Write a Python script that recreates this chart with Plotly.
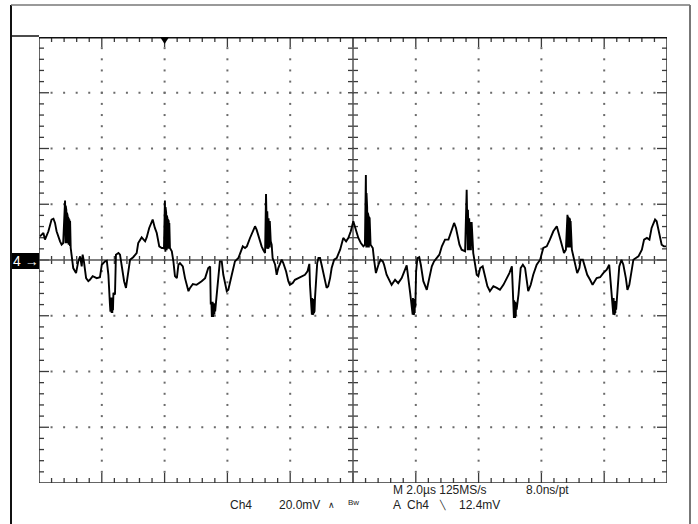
import plotly.graph_objects as go

# ---------------- data (Ch4, 2.0 us/div, 20 mV/div), read segment by segment ----------------
time_us = [
    0.03, 0.14, 0.19, 0.30, 0.40, 0.46, 0.51, 0.56, 0.67, 0.72, 0.77,
    0.83, 0.845, 0.85, 0.865, 0.87, 0.885, 0.89, 0.905, 0.91, 0.925, 0.93, 0.945, 0.95, 0.965, 0.97, 0.985, 0.99, 1.01,
    1.04, 1.09, 1.18, 1.25, 1.31, 1.36, 1.39, 1.43, 1.50, 1.57, 1.62, 1.71, 1.84, 1.94, 2.00, 2.10, 2.16, 2.21,
    2.26, 2.275, 2.28, 2.295, 2.30, 2.315, 2.32, 2.335, 2.34, 2.355, 2.37, 2.42,
    2.45, 2.53, 2.58, 2.63, 2.71, 2.77, 2.84, 2.90, 3.00, 3.11, 3.16, 3.27, 3.38, 3.43, 3.51, 3.62, 3.69, 3.75, 3.83, 3.91, 3.98,
    4.01, 4.025, 4.03, 4.045, 4.05, 4.065, 4.07, 4.085, 4.09, 4.105, 4.11, 4.125, 4.13, 4.145, 4.15, 4.17,
    4.23, 4.28, 4.33, 4.39, 4.44, 4.49, 4.58, 4.65, 4.76, 4.81, 4.90, 5.02, 5.11, 5.18, 5.29, 5.39, 5.45,
    5.47, 5.49, 5.505, 5.51, 5.525, 5.53, 5.545, 5.55, 5.565, 5.57, 5.585, 5.59, 5.61, 5.66,
    5.74, 5.76, 5.82, 5.87, 5.98, 6.03, 6.14, 6.24, 6.35, 6.42, 6.49, 6.56, 6.62, 6.72, 6.81, 6.88, 6.93, 7.02, 7.09, 7.14, 7.20,
    7.23, 7.245, 7.25, 7.265, 7.27, 7.285, 7.29, 7.305, 7.31, 7.325, 7.33, 7.345, 7.35, 7.38,
    7.41, 7.44, 7.52, 7.57, 7.62, 7.68, 7.73, 7.78, 7.87, 7.94, 7.99, 8.08, 8.15, 8.26, 8.37, 8.47, 8.55, 8.61, 8.63,
    8.69, 8.70, 8.715, 8.72, 8.735, 8.74, 8.755, 8.76, 8.775, 8.79,
    8.86, 8.90, 8.95, 9.00, 9.08, 9.16, 9.21, 9.27, 9.32, 9.40, 9.48, 9.59, 9.69, 9.78, 9.85, 9.93, 10.01, 10.06, 10.12, 10.17, 10.25, 10.33, 10.38,
    10.41, 10.425, 10.43, 10.445, 10.45, 10.465, 10.47, 10.485, 10.49, 10.505, 10.51, 10.525, 10.53, 10.56,
    10.63, 10.67, 10.73, 10.81, 10.88, 10.95, 10.99, 11.07, 11.16, 11.23, 11.34, 11.44, 11.55, 11.66, 11.71, 11.82,
    11.90, 11.91, 11.925, 11.93, 11.945, 11.95, 11.965, 11.97, 11.985, 12.01,
    12.05, 12.11, 12.16, 12.24, 12.35, 12.43, 12.51, 12.58, 12.67, 12.75, 12.83, 12.93, 13.04, 13.14, 13.22, 13.28, 13.32, 13.39, 13.46, 13.57,
    13.62, 13.635, 13.64, 13.655, 13.66, 13.675, 13.68, 13.695, 13.70, 13.715, 13.72, 13.735, 13.74, 13.755, 13.76, 13.78,
    13.83, 13.89, 13.94, 13.99, 14.05, 14.13, 14.20, 14.28, 14.36, 14.47, 14.58, 14.68, 14.79, 14.90, 14.98, 15.06,
    15.09, 15.11, 15.125, 15.13, 15.145, 15.15, 15.165, 15.17, 15.185, 15.19, 15.21, 15.27,
    15.34, 15.41, 15.48, 15.53, 15.58, 15.66, 15.74, 15.85, 15.96, 16.06, 16.17, 16.27, 16.38, 16.49, 16.57, 16.65, 16.72, 16.78,
    16.83, 16.845, 16.85, 16.865, 16.87, 16.885, 16.89, 16.905, 16.91, 16.925, 16.93, 16.97,
    17.02, 17.07, 17.14, 17.21, 17.25, 17.32, 17.39, 17.46, 17.55, 17.63, 17.76, 17.87, 17.97, 18.08, 18.16, 18.24,
    18.29, 18.30, 18.315, 18.32, 18.335, 18.34, 18.355, 18.36, 18.38, 18.42,
    18.48, 18.55, 18.61, 18.69, 18.74, 18.80, 18.88, 18.93, 19.01, 19.09, 19.20, 19.27, 19.36, 19.44, 19.51, 19.56, 19.62, 19.67, 19.72, 19.78, 19.83, 19.90, 19.97,
]
ch4_mV = [
    8.5, 9.7, 7.3, 10.3, 14.5, 14.8, 13.3, 10.3, 6.7, 5.5, 6.1,
    21.3, 6.0, 19.5, 6.0, 18.0, 6.0, 17.0, 6.0, 16.0, 6.0, 15.5, 5.5, 15.0, 5.5, 14.5, 5.0, 14.0, 4.3,
    0.7, -2.9, -4.7, -0.5, 1.3, -2.3, 1.9, -0.5, -6.5, -7.6, -7.1, -5.8, -6.5, -6.2, -1.7, -0.5, -0.3, -5.3,
    -16.0, -18.5, -13.5, -19.0, -13.5, -19.0, -14.0, -19.0, -13.5, -18.0, -11.8, -12.4,
    1.9, 2.5, 1.9, -1.7, -7.6, -10.0, -5.3, 0.1, 1.0, 2.5, 6.1, 8.1, 6.7, 8.1, 11.5, 14.5, 11.5, 9.7, 4.9, 4.3, 4.3,
    21.3, 3.0, 19.0, 3.0, 17.0, 3.5, 16.0, 3.5, 15.0, 4.0, 14.5, 4.0, 14.0, 4.0, 13.3, 4.3,
    3.1, -0.5, -5.8, -6.5, -1.7, -1.1, -2.3, -6.5, -11.2, -10.0, -8.6, -8.9, -8.3, -7.6, -6.5, -2.9, -2.3,
    -16.0, -15.0, -20.4, -15.0, -20.4, -15.0, -20.4, -15.5, -20.0, -15.5, -19.5, -16.0, -18.4, -12.4,
    -3.5, -0.5, -0.5, -5.3, -11.2, -10.7, -5.3, -0.5, 0.7, 3.1, 4.9, 4.3, 4.9, 7.9, 10.3, 12.1, 10.9, 7.3, 4.9, 3.7, 2.5,
    23.7, 4.0, 20.0, 4.0, 17.5, 4.0, 16.0, 4.0, 15.0, 4.5, 14.5, 4.5, 14.0, 6.7,
    5.5, 0.7, -1.7, -5.3, -2.9, -1.1, 0.1, -1.1, -4.1, -7.6, -8.9, -8.3, -7.1, -6.5, -5.8, -5.3, -4.1, -1.4, -8.9,
    -19.6, -13.6, -19.6, -13.6, -19.3, -14.0, -19.0, -14.0, -18.3, -13.6,
    -1.1, 0.7, 0.7, -1.7, -6.5, -10.0, -9.4, -6.5, -2.9, 0.1, 0.7, 3.7, 7.9, 6.7, 7.9, 10.3, 13.9, 12.1, 10.3, 7.9, 6.1, 4.9, 5.5,
    30.5, 4.5, 24.0, 4.5, 19.0, 4.5, 17.0, 4.5, 16.0, 4.5, 15.5, 5.0, 15.0, 5.5,
    4.3, 0.1, -4.7, -1.7, 0.1, -0.5, -1.7, -5.3, -7.6, -8.9, -7.1, -8.3, -6.5, -2.9, -1.9, -11.8,
    -19.6, -13.6, -19.6, -13.6, -19.4, -14.0, -19.0, -14.7, -17.0, -4.1,
    0.7, 1.0, -1.7, -7.6, -10.7, -6.5, -2.3, -0.5, 0.7, 1.9, 4.9, 7.3, 7.3, 10.9, 13.3, 11.5, 9.1, 5.5, 3.7, 3.1,
    25.2, 3.5, 21.0, 3.5, 18.0, 3.5, 16.0, 3.5, 15.0, 3.5, 14.0, 3.5, 13.5, 3.5, 13.3, 13.3,
    2.5, -1.7, -5.3, -5.8, -2.9, -2.3, -5.3, -9.4, -11.2, -9.4, -10.0, -10.7, -8.9, -6.5, -4.7, -2.3,
    -14.2, -15.0, -20.8, -14.5, -20.8, -14.5, -20.8, -15.0, -20.0, -15.4, -17.8, -12.4,
    -2.9, -1.7, -2.9, -7.6, -11.2, -8.9, -5.3, -1.7, 0.1, 4.3, 4.9, 7.3, 10.3, 12.1, 8.5, 4.9, 2.5, 3.7,
    16.2, 4.5, 15.5, 4.5, 15.0, 4.5, 15.0, 4.5, 14.5, 4.5, 14.0, 3.7,
    1.3, -1.7, -4.7, -2.9, 0.1, 0.1, -2.3, -5.3, -7.1, -8.9, -6.5, -6.2, -4.7, -3.5, -1.7, -11.8,
    -19.6, -13.6, -19.6, -13.6, -19.4, -14.7, -19.0, -15.0, -17.8, -11.2,
    -2.3, 0.1, -1.7, -6.5, -10.7, -8.9, -4.1, 0.1, 0.7, 1.3, 3.7, 7.3, 7.9, 7.3, 11.5, 12.7, 14.5, 13.9, 11.5, 8.5, 5.5, 4.9, 4.9,
]

# scope settings / readout text
US_PER_DIV = 2.0
MV_PER_DIV = 20.0
X_DIVS = 10
Y_DIVS = 8
MINOR_PER_DIV = 5
TRIGGER_POS_US = 4.0
readout_row1 = ["M 2.0µs 125MS/s", "8.0ns/pt"]
readout_row2 = ["Ch4", "20.0mV", "\u2227", "Bw", "A  Ch4", "\u2572", "12.4mV"]
channel_label = "4 \u2192"

# ---------------- layout geometry (pixels) ----------------
W, H = 698, 524
GL, GR, GT, GB = 39, 667, 37, 483
XMAX = US_PER_DIV * X_DIVS
YMAX = MV_PER_DIV * Y_DIVS / 2
dx = XMAX / (GR - GL)          # data units per pixel (x)
dy = 2 * YMAX / (GB - GT)      # data units per pixel (y)


def pxx(px):
    return (px - GL) / (GR - GL)


def pxy(py):
    return (GB - py) / (GB - GT)


fig = go.Figure()

# dotted graticule
dot_x, dot_y = [], []
xminor = US_PER_DIV / MINOR_PER_DIV
yminor = MV_PER_DIV / MINOR_PER_DIV
for j in range(1, Y_DIVS):
    yv = -YMAX + j * MV_PER_DIV
    if abs(yv) < 1e-9:
        continue
    for i in range(1, X_DIVS * MINOR_PER_DIV):
        dot_x.append(i * xminor)
        dot_y.append(yv)
for i in range(1, X_DIVS):
    xv = i * US_PER_DIV
    if abs(xv - XMAX / 2) < 1e-9:
        continue
    for j in range(1, Y_DIVS * MINOR_PER_DIV):
        dot_x.append(xv)
        dot_y.append(-YMAX + j * yminor)
fig.add_trace(go.Scatter(x=dot_x, y=dot_y, mode="markers",
                         marker=dict(symbol="square", size=2, color="#6a6a6a", line=dict(width=0)),
                         hoverinfo="skip", showlegend=False))

# tick marks on frame and centre axes
tx, ty = [], []
for i in range(1, X_DIVS * MINOR_PER_DIV):
    xv = i * xminor
    ln = 10 if i % MINOR_PER_DIV == 0 else 5
    tx += [xv, xv, None, xv, xv, None, xv, xv, None]
    ty += [-YMAX, -YMAX + ln * dy, None, YMAX, YMAX - ln * dy, None, -4 * dy, 4 * dy, None]
for j in range(1, Y_DIVS * MINOR_PER_DIV):
    yv = -YMAX + j * yminor
    ln = 10 if j % MINOR_PER_DIV == 0 else 5
    tx += [0, ln * dx, None, XMAX, XMAX - ln * dx, None, XMAX / 2 - 5 * dx, XMAX / 2 + 5 * dx, None]
    ty += [yv, yv, None, yv, yv, None, yv, yv, None]
fig.add_trace(go.Scatter(x=tx, y=ty, mode="lines", line=dict(color="#3a3a3a", width=1.3),
                         hoverinfo="skip", showlegend=False))

# centre lines
fig.add_trace(go.Scatter(x=[0, XMAX, None, XMAX / 2, XMAX / 2], y=[0, 0, None, -YMAX, YMAX],
                         mode="lines", line=dict(color="#555555", width=1.5),
                         hoverinfo="skip", showlegend=False))

# waveform
fig.add_trace(go.Scatter(x=time_us, y=ch4_mV, mode="lines",
                         line=dict(color="#000000", width=1.9),
                         hoverinfo="skip", showlegend=False))

shapes = []
# graticule frame
shapes.append(dict(type="rect", xref="x", yref="y", x0=0, x1=XMAX, y0=-YMAX, y1=YMAX,
                   line=dict(color="#333333", width=1.5)))
shapes.append(dict(type="line", xref="x", yref="y", x0=0, x1=XMAX, y0=YMAX, y1=YMAX,
                   line=dict(color="#111111", width=3)))
# outer screen frame
shapes.append(dict(type="line", xref="paper", yref="paper", x0=pxx(11), x1=pxx(11), y0=pxy(5), y1=pxy(H),
                   line=dict(color="#111111", width=2)))
shapes.append(dict(type="line", xref="paper", yref="paper", x0=pxx(11), x1=pxx(690), y0=pxy(5), y1=pxy(5),
                   line=dict(color="#777777", width=1.5)))
shapes.append(dict(type="line", xref="paper", yref="paper", x0=pxx(690), x1=pxx(690), y0=pxy(5), y1=pxy(H),
                   line=dict(color="#777777", width=2)))
shapes.append(dict(type="line", xref="paper", yref="paper", x0=pxx(11), x1=pxx(GL), y0=pxy(36), y1=pxy(36),
                   line=dict(color="#111111", width=1.5)))
# channel marker box
shapes.append(dict(type="rect", xref="paper", yref="paper", x0=pxx(12), x1=pxx(GL), y0=pxy(269), y1=pxy(253),
                   fillcolor="#000000", line=dict(width=0)))
# trigger position marker
tx0 = TRIGGER_POS_US
shapes.append(dict(type="path", xref="x", yref="y",
                   path=f"M {tx0 - 4.5 * dx},{YMAX} L {tx0 + 4.5 * dx},{YMAX} L {tx0},{YMAX - 7 * dy} Z",
                   fillcolor="#000000", line=dict(width=0)))

FONT = "Liberation Sans, Arial, sans-serif"
ann = []
ann.append(dict(text=channel_label, x=pxx(25.5), y=pxy(261), xref="paper", yref="paper",
                showarrow=False, font=dict(family=FONT, size=14, color="#ffffff"), xanchor="center", yanchor="middle"))
row1_x = [391, 524]
for t, xp in zip(readout_row1, row1_x):
    ann.append(dict(text=t, x=pxx(xp), y=pxy(490), xref="paper", yref="paper", showarrow=False,
                    font=dict(family=FONT, size=12, color="#222222"), xanchor="left", yanchor="middle"))
row2_x = [228, 277, 326, 346, 391, 437, 457]
row2_size = [12, 12, 9, 8, 12, 9, 12]
row2_dy = [0, 0, 0, -2, 0, 0, 0]
for t, xp, s, o in zip(readout_row2, row2_x, row2_size, row2_dy):
    ann.append(dict(text=t, x=pxx(xp), y=pxy(505 + o), xref="paper", yref="paper", showarrow=False,
                    font=dict(family=FONT, size=s, color="#222222"), xanchor="left", yanchor="middle"))

fig.update_layout(
    width=W, height=H, autosize=False,
    margin=dict(l=GL, r=W - GR, t=GT, b=H - GB, pad=0),
    paper_bgcolor="#ffffff", plot_bgcolor="#ffffff",
    xaxis=dict(range=[0, XMAX], showgrid=False, zeroline=False, showticklabels=False,
               ticks="", showline=False, fixedrange=True),
    yaxis=dict(range=[-YMAX, YMAX], showgrid=False, zeroline=False, showticklabels=False,
               ticks="", showline=False, fixedrange=True),
    shapes=shapes, annotations=ann, showlegend=False,
)

fig.write_html("out.html", config={"displayModeBar": False},
               post_script="document.body.style.margin='0';document.body.style.overflow='hidden';")
